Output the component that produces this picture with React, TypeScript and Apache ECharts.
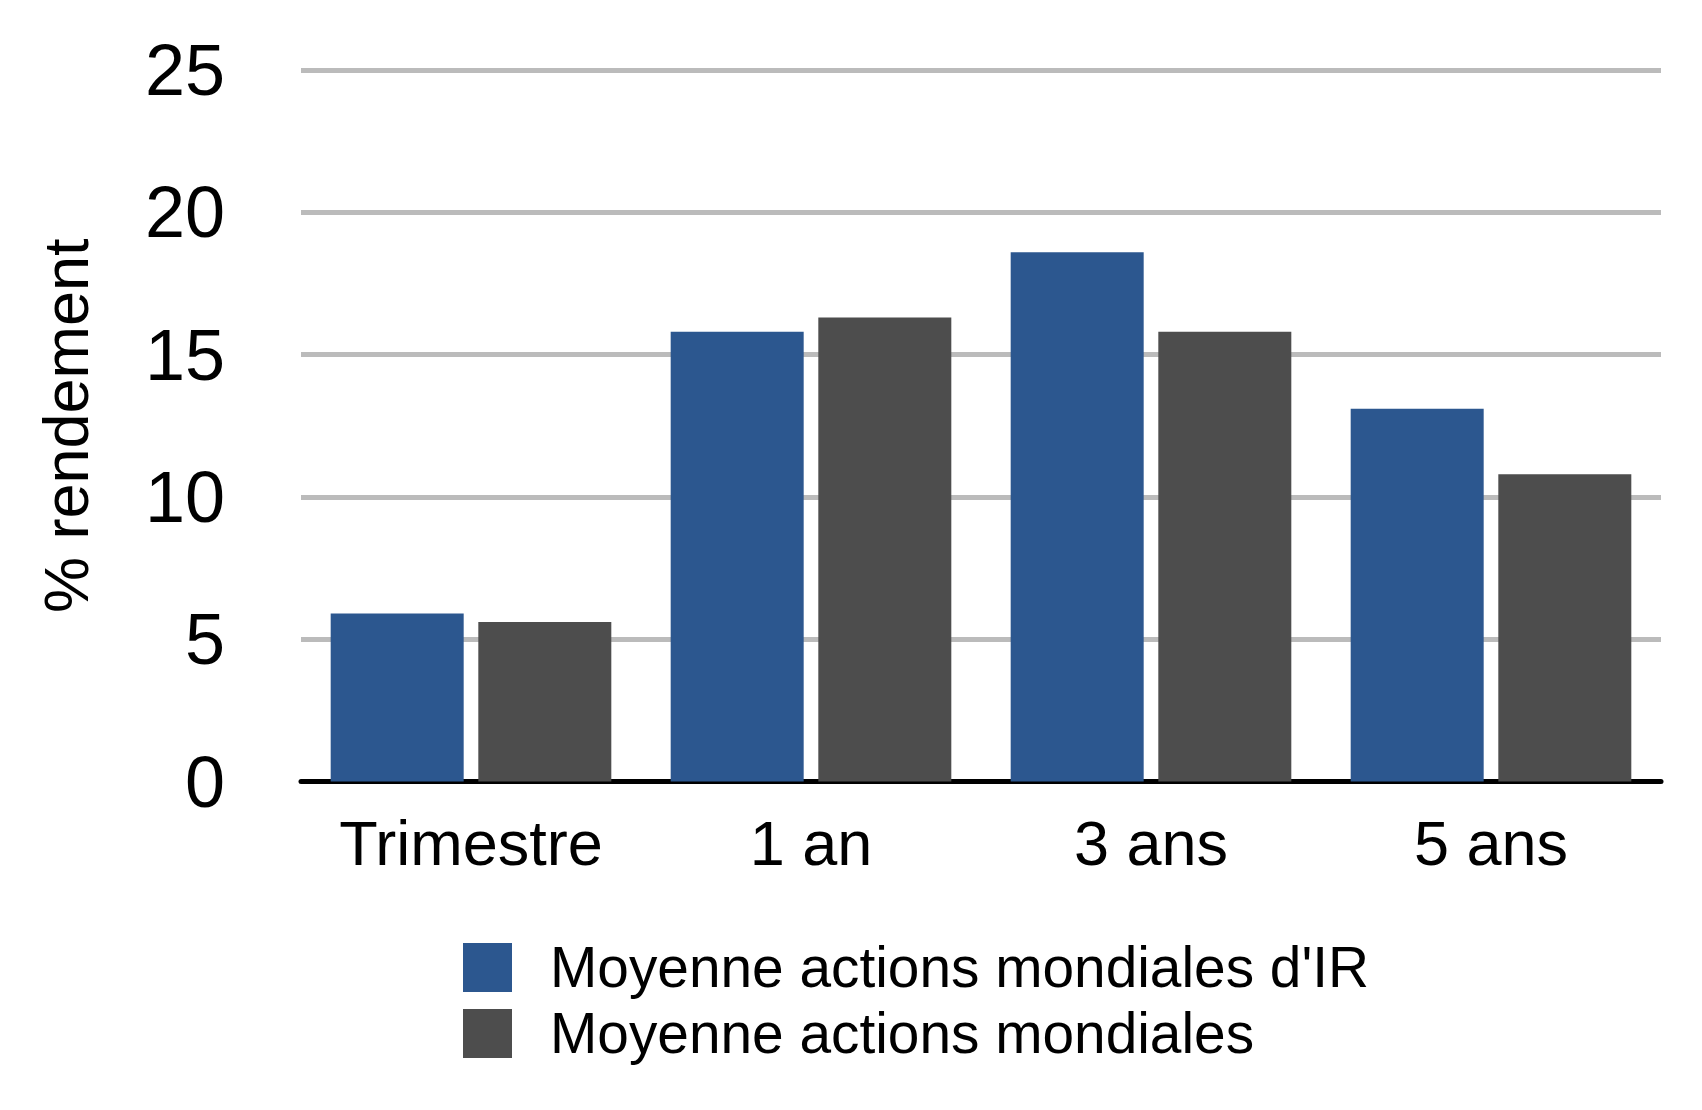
import React, { useEffect, useRef } from "react";
import * as echarts from "echarts";

const categories = ["Trimestre", "1 an", "3 ans", "5 ans"];
const seriesNames = ["Moyenne actions mondiales d'IR", "Moyenne actions mondiales"];
const irValues = [5.9, 15.8, 18.6, 13.1];
const worldValues = [5.6, 16.3, 15.8, 10.8];
const colors = ["#2c578f", "#4d4d4d"];
const FONT = "'Liberation Sans', Arial, sans-serif";

export default function App() {
  const ref = useRef<HTMLDivElement>(null);
  useEffect(() => {
    if (!ref.current) return;
    const chart = echarts.init(ref.current, undefined, { renderer: "svg" });
    chart.setOption({
      animation: false,
      backgroundColor: "#ffffff",
      textStyle: { fontFamily: FONT },
      grid: { left: 301, right: 41, top: 70, bottom: 328.5 },
      legend: {
        orient: "vertical",
        left: 458,
        top: 934,
        itemWidth: 49,
        itemHeight: 49,
        itemGap: 9,
        icon: "rect",
        textStyle: { fontFamily: FONT, fontSize: 56.8, color: "#000", lineHeight: 56, padding: [0, 0, 0, 33] },
        data: seriesNames,
      },
      xAxis: {
        type: "category",
        data: categories,
        axisTick: { show: false },
        axisLine: { lineStyle: { color: "#000", width: 5 } },
        axisLabel: { fontFamily: FONT, fontSize: 63, color: "#000", margin: 30, interval: 0 },
      },
      yAxis: {
        type: "value",
        min: 0,
        max: 25,
        interval: 5,
        name: "% rendement",
        nameLocation: "middle",
        nameGap: 204,
        nameTextStyle: { fontFamily: FONT, fontSize: 63, color: "#000" },
        axisLabel: { fontFamily: FONT, fontSize: 72, color: "#000", margin: 76 },
        axisLine: { show: false },
        axisTick: { show: false },
        splitLine: { lineStyle: { color: "#bbbbbb", width: 5 } },
      },
      series: [
        {
          name: seriesNames[0],
          type: "bar",
          data: irValues,
          barWidth: 133,
          barGap: "11%",
          itemStyle: { color: colors[0] },
        },
        {
          name: seriesNames[1],
          type: "bar",
          data: worldValues,
          barWidth: 133,
          barGap: "11%",
          itemStyle: { color: colors[1] },
        },
      ],
    });
    return () => chart.dispose();
  }, []);
  return (
    <div
      ref={ref}
      style={{ position: "fixed", left: 0, top: 0, width: 1702, height: 1110 }}
    />
  );
}
